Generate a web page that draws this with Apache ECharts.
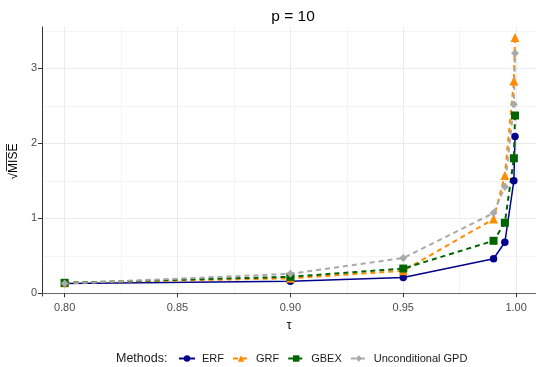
<!DOCTYPE html>
<html>
<head>
<meta charset="utf-8">
<script src="https://cdn.jsdelivr.net/npm/echarts@6/dist/echarts.min.js"></script>
<style>
html,body{margin:0;padding:0;background:#fff;}
#chart{width:536px;height:367px;}
</style>
</head>
<body>
<div id="chart"></div>
<script>
// ---- data ----
var tau = [0.8, 0.9, 0.95, 0.99, 0.995, 0.999, 0.9995];
var erf = [0.13, 0.16, 0.21, 0.46, 0.68, 1.50, 2.09];
var grf = [0.14, 0.20, 0.30, 0.99, 1.57, 2.83, 3.41];
var gbex = [0.14, 0.22, 0.33, 0.70, 0.94, 1.80, 2.37];
var gpd = [0.13, 0.26, 0.47, 1.07, 1.42, 2.52, 3.20];
var xTicks = [0.80, 0.85, 0.90, 0.95, 1.00];
var xMinor = [0.825, 0.875, 0.925, 0.975];
var yTicks = [0, 1, 2, 3];
var yMinor = [0.5, 1.5, 2.5, 3.5];
var seriesNames = ['ERF', 'GRF', 'GBEX', 'Unconditional GPD'];

function pairs(vals) { return tau.map(function (t, i) { return [t, vals[i]]; }); }

var FONT = '"Liberation Sans", Arial, sans-serif';
var chart = echarts.init(document.getElementById('chart'), null, {renderer: 'canvas'});

function mkSeries(name, vals, color, symbol, size, dashed, width) {
  return {
    name: name, type: 'line', data: pairs(vals), xAxisIndex: 0, yAxisIndex: 0,
    symbol: symbol, symbolSize: size, showSymbol: true,
    lineStyle: {color: color, width: width, type: dashed ? [5, 4] : 'solid'},
    itemStyle: {color: color},
    emphasis: {disabled: true}, animation: false
  };
}

chart.setOption({
  animation: false,
  backgroundColor: '#fff',
  textStyle: {fontFamily: FONT},
  title: {
    text: 'p = 10', left: 288, top: 4, textAlign: 'center',
    textStyle: {fontSize: 15.5, fontWeight: 'normal', color: '#000', fontFamily: FONT}
  },
  grid: {left: 40, right: 0, top: 27, bottom: 71, containLabel: false},
  legend: {
    data: seriesNames, left: 178, top: 353, padding: 0, itemWidth: 16, itemHeight: 8, itemGap: 8,
    textStyle: {fontSize: 11, color: '#1a1a1a', fontFamily: FONT, padding: [0, 0, 0, 2]}
  },
  graphic: [{
    type: 'text', left: 116, top: 352,
    style: {text: 'Methods:', fontSize: 12.5, fill: '#1a1a1a', fontFamily: FONT}
  }],
  xAxis: [{
    type: 'value', min: 0.79, max: 1.0088, position: 'bottom',
    name: 'τ', nameLocation: 'middle', nameGap: 24,
    nameTextStyle: {fontSize: 12, color: '#000', fontFamily: FONT},
    axisLine: {show: true, lineStyle: {color: '#333', width: 1}},
    axisTick: {show: true, length: 4, customValues: xTicks, lineStyle: {color: '#333'}},
    axisLabel: {customValues: xTicks, fontSize: 11, color: '#4d4d4d', margin: 6,
      formatter: function (v) { return v.toFixed(2); }},
    splitLine: {show: true, lineStyle: {color: '#ebebeb', width: 1}}
  }, {
    type: 'value', min: 0.79, max: 1.0088, position: 'top',
    axisLine: {show: true, lineStyle: {color: '#666', width: 1}},
    axisTick: {show: false, customValues: xMinor},
    axisLabel: {show: false},
    splitLine: {show: true, lineStyle: {color: '#f4f4f4', width: 1}}
  }],
  yAxis: [{
    type: 'value', min: -0.036, max: 3.55, position: 'left',
    name: '√M\u0305I\u0305S\u0305E\u0305', nameLocation: 'middle', nameGap: 12, nameRotate: 90,
    nameTextStyle: {fontSize: 12, color: '#000', fontFamily: '"Liberation Sans Narrow", ' + FONT},
    axisLine: {show: true, lineStyle: {color: '#333', width: 1}},
    axisTick: {show: true, length: 4, customValues: yTicks, lineStyle: {color: '#333'}},
    axisLabel: {customValues: yTicks, fontSize: 11, color: '#4d4d4d', margin: 5},
    splitLine: {show: true, lineStyle: {color: '#ebebeb', width: 1}}
  }, {
    type: 'value', min: -0.036, max: 3.55, position: 'right',
    axisLine: {show: false},
    axisTick: {show: false, customValues: yMinor},
    axisLabel: {show: false},
    splitLine: {show: true, lineStyle: {color: '#f4f4f4', width: 1}}
  }],
  series: [
    mkSeries('ERF', erf, '#00008b', 'circle', 7.5, false, 1.5),
    mkSeries('GRF', grf, '#ff8c00', 'triangle', 9, true, 2),
    mkSeries('GBEX', gbex, '#006400', 'rect', 8, true, 2),
    mkSeries('Unconditional GPD', gpd, '#a9a9a9', 'diamond', 8, true, 2)
  ]
});
</script>
</body>
</html>
